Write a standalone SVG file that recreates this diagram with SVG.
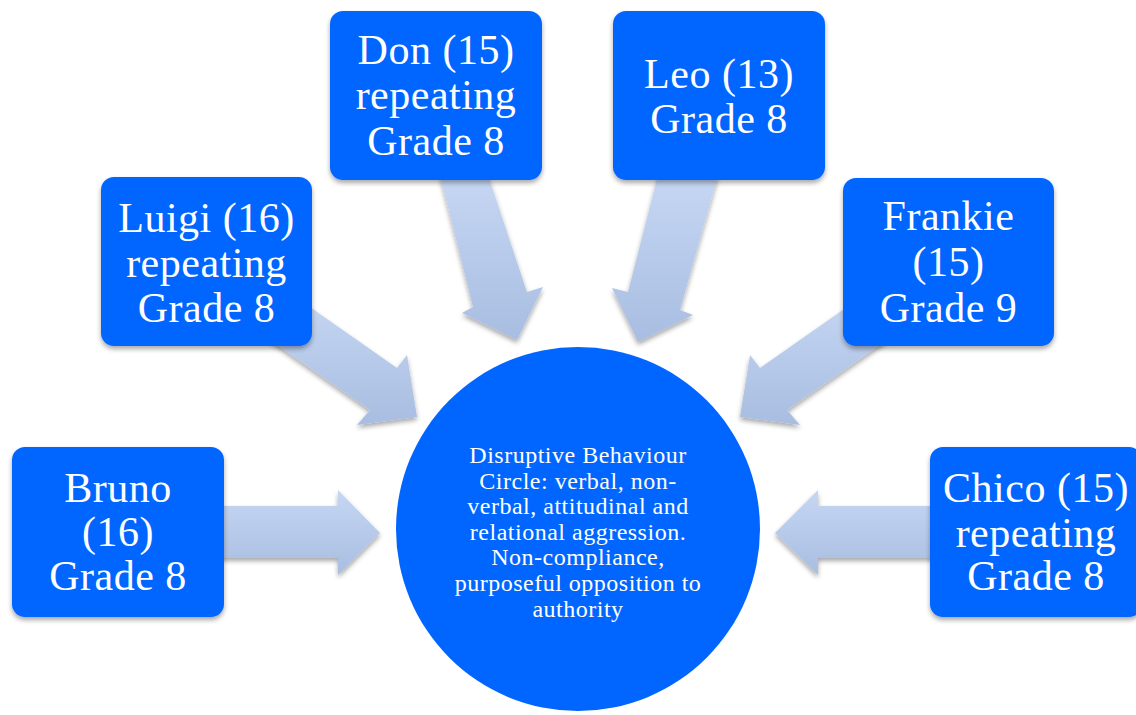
<svg xmlns="http://www.w3.org/2000/svg" width="1136" height="715" viewBox="0 0 1136 715">
  <defs>
    <linearGradient id="arrowFill" x1="0" y1="0" x2="0" y2="1">
      <stop offset="0" stop-color="#c6d7f3"/>
      <stop offset="1" stop-color="#a8bde1"/>
    </linearGradient>
    <filter id="shadow" x="-20%" y="-20%" width="140%" height="140%">
      <feGaussianBlur in="SourceAlpha" stdDeviation="2.5"/>
      <feOffset dx="0" dy="3" result="blur"/>
      <feComponentTransfer><feFuncA type="linear" slope="0.35"/></feComponentTransfer>
      <feMerge><feMergeNode/><feMergeNode in="SourceGraphic"/></feMerge>
    </filter>
    <style>
      .arrow { fill: url(#arrowFill); filter: url(#shadow); }
      .box { fill: #0066ff; filter: url(#shadow); }
      .hub { fill: #0066ff; }
      .label { fill: #ffffff; font-family: "Liberation Serif", "DejaVu Serif", serif; font-size: 42px; text-anchor: middle; letter-spacing: 0.5px; }
      .hubtext { fill: #ffffff; font-family: "Liberation Serif", "DejaVu Serif", serif; font-size: 24px; text-anchor: middle; letter-spacing: 0.5px; }
    </style>
  </defs>

  <rect width="1136" height="715" fill="#ffffff"/>

  <!-- block arrows pointing into the central circle -->
  <g id="connectors">
    <polygon class="arrow" points="215,506 338,506 338,490 380,533 338,575 338,558 215,558"/>
    <polygon class="arrow" points="290,293 397,368 407,355 417,417 357,425 370,410 250,326"/>
    <polygon class="arrow" points="440,175 473,307 462,313 517,340 543,287 527,292 488,175"/>
    <polygon class="arrow" points="658,175 628,292 612,288 638,342 693,315 680,310 718,175"/>
    <polygon class="arrow" points="867,293 760,368 750,355 740,417 800,425 787,410 907,326"/>
    <polygon class="arrow" points="940,506 818,506 818,490 775,533 818,575 818,558 940,558"/>
  </g>

  <g id="hub">
    <circle class="hub" cx="578" cy="529" r="182"/>
    <text class="hubtext" x="578" y="463">Disruptive Behaviour</text>
    <text class="hubtext" x="578" y="488.6">Circle: verbal, non-</text>
    <text class="hubtext" x="578" y="514.2">verbal, attitudinal and</text>
    <text class="hubtext" x="578" y="539.8">relational aggression.</text>
    <text class="hubtext" x="578" y="565.4">Non-compliance,</text>
    <text class="hubtext" x="578" y="591">purposeful opposition to</text>
    <text class="hubtext" x="578" y="616.6">authority</text>
  </g>

  <g id="bruno">
    <rect class="box" x="12" y="447" width="212" height="170" rx="13"/>
    <text class="label" x="118" y="502">Bruno</text>
    <text class="label" x="118" y="546">(16)</text>
    <text class="label" x="118" y="590">Grade 8</text>
  </g>

  <g id="luigi">
    <rect class="box" x="101" y="177" width="211" height="169" rx="13"/>
    <text class="label" x="206.5" y="232">Luigi (16)</text>
    <text class="label" x="206.5" y="277">repeating</text>
    <text class="label" x="206.5" y="322">Grade 8</text>
  </g>

  <g id="don">
    <rect class="box" x="330" y="11" width="212" height="169" rx="13"/>
    <text class="label" x="436" y="64">Don (15)</text>
    <text class="label" x="436" y="109">repeating</text>
    <text class="label" x="436" y="155">Grade 8</text>
  </g>

  <g id="leo">
    <rect class="box" x="613" y="11" width="212" height="169" rx="13"/>
    <text class="label" x="719" y="88">Leo (13)</text>
    <text class="label" x="719" y="133">Grade 8</text>
  </g>

  <g id="frankie">
    <rect class="box" x="843" y="178" width="211" height="168" rx="13"/>
    <text class="label" x="948.5" y="230">Frankie</text>
    <text class="label" x="948.5" y="276">(15)</text>
    <text class="label" x="948.5" y="322">Grade 9</text>
  </g>

  <g id="chico">
    <rect class="box" x="930" y="447" width="212" height="170" rx="13"/>
    <text class="label" x="1036" y="502">Chico (15)</text>
    <text class="label" x="1036" y="547">repeating</text>
    <text class="label" x="1036" y="590">Grade 8</text>
  </g>
</svg>
